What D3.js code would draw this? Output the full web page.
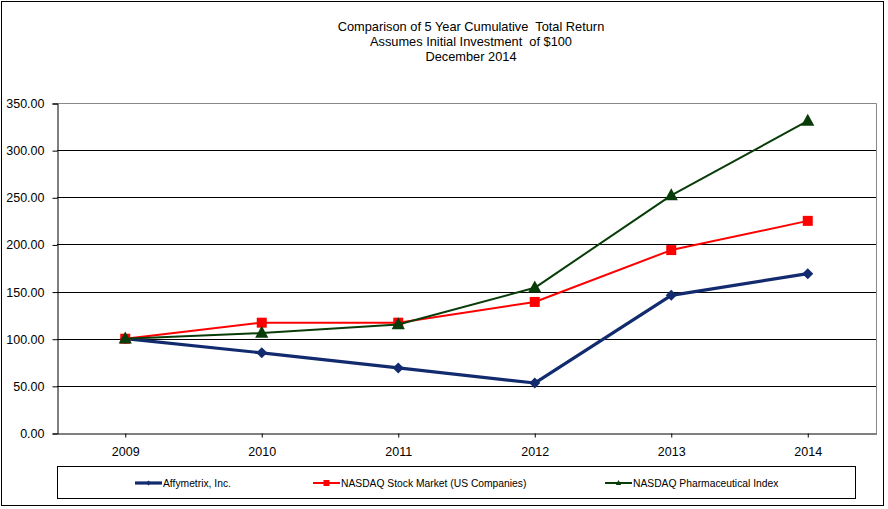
<!DOCTYPE html>
<html>
<head>
<meta charset="utf-8">
<script src="https://cdn.jsdelivr.net/npm/d3@7.9.0/dist/d3.min.js"></script>
<style>
  body { margin: 0; background: #fff; }
  svg { font-family: "Liberation Sans", Arial, sans-serif; }
  .title { white-space: pre; }
</style>
</head>
<body>
<svg width="888" height="509"></svg>
<script>
const years = ['2009', '2010', '2011', '2012', '2013', '2014'];
const affymetrix = [100, 85, 69, 53, 146, 169];
const nasdaqMarket = [100, 117, 117, 139, 194, 225];
const nasdaqPharma = [100, 106, 115, 154, 252, 331];
const yTicks = [0, 50, 100, 150, 200, 250, 300, 350];
const titleLines = [
  'Comparison of 5 Year Cumulative  Total Return',
  'Assumes Initial Investment  of $100',
  'December 2014'
];

const series = [
  { name: 'Affymetrix, Inc.', values: affymetrix, color: '#122a6e', width: 3.2, marker: 'diamond' },
  { name: 'NASDAQ Stock Market (US Companies)', values: nasdaqMarket, color: '#ff0000', width: 2, marker: 'square' },
  { name: 'NASDAQ Pharmaceutical Index', values: nasdaqPharma, color: '#083c08', width: 2, marker: 'triangle' }
];

const svg = d3.select('svg');
const plotLeft = 57, plotRight = 876, plotTop = 103, plotBottom = 433;

// outer frame
svg.append('rect').attr('x', 1.5).attr('y', 1.5).attr('width', 882).attr('height', 504)
  .attr('fill', 'none').attr('stroke', '#000').attr('stroke-width', 1);

svg.append('g').selectAll('text').data(titleLines).join('text')
  .attr('class', 'title')
  .attr('x', 471).attr('y', (d, i) => 31 + i * 15)
  .attr('text-anchor', 'middle').attr('font-size', 12.8).text(d => d);

let x = d3.scaleBand().domain(years).range([plotLeft, plotRight]);
let y = d3.scaleLinear().domain([0, 350]).range([plotBottom, plotTop]);

// plot area border (gray)
svg.append('path')
  .attr('d', `M${plotLeft},${plotTop + 0.5}H${plotRight + 0.5}V${plotBottom}`)
  .attr('fill', 'none').attr('stroke', '#888').attr('stroke-width', 1);

// gridlines
svg.append('g').selectAll('line').data(yTicks.filter(d => d > 0 && d < 350)).join('line')
  .attr('x1', plotLeft).attr('x2', plotRight)
  .attr('y1', d => Math.round(y(d)) + 0.5).attr('y2', d => Math.round(y(d)) + 0.5)
  .attr('stroke', '#000');

// y axis
let yAxis = d3.axisLeft(y).tickValues(yTicks).tickFormat(d3.format('.2f')).tickSize(5).tickPadding(8);
let gy = svg.append('g').attr('transform', `translate(${plotLeft + 0.5},0.5)`).call(yAxis);
gy.select('.domain').attr('stroke', '#000');
gy.selectAll('text').attr('font-size', 12.5).attr('font-family', 'Liberation Sans, Arial, sans-serif').attr('fill', '#000');

// x axis
let xAxis = d3.axisBottom(x).tickSize(4).tickPadding(10).tickSizeOuter(0);
let gx = svg.append('g').attr('transform', `translate(0.5,${plotBottom + 0.5})`).call(xAxis);
gx.selectAll('text').attr('font-size', 12.5).attr('font-family', 'Liberation Sans, Arial, sans-serif').attr('fill', '#000');

const cx = d => x(d) + x.bandwidth() / 2;

const markerPath = (type, s) => {
  if (type === 'diamond') return `M0,${-s}L${s},0L0,${s}L${-s},0Z`;
  if (type === 'square') return `M${-s},${-s}H${s}V${s}H${-s}Z`;
  return `M0,${-s * 1.2}L${s * 1.1},${s * 0.8}L${-s * 1.1},${s * 0.8}Z`;
};
const markerSize = { diamond: 5.5, square: 5, triangle: 6 };

series.forEach(s => {
  let line = d3.line().x((d, i) => cx(years[i])).y(d => y(d));
  svg.append('path').datum(s.values).attr('d', line)
    .attr('fill', 'none').attr('stroke', s.color).attr('stroke-width', s.width)
    .attr('stroke-linejoin', 'round');
  svg.append('g').selectAll('path').data(s.values).join('path')
    .attr('transform', (d, i) => `translate(${cx(years[i])},${y(d)})`)
    .attr('d', markerPath(s.marker, markerSize[s.marker]))
    .attr('fill', s.color);
});

// legend
svg.append('rect').attr('x', 57.5).attr('y', 466.5).attr('width', 798).attr('height', 32)
  .attr('fill', '#fff').attr('stroke', '#000');
const legendX = [135, 313, 605];
series.forEach((s, i) => {
  let g = svg.append('g').attr('transform', `translate(${legendX[i]},483)`);
  g.append('line').attr('x1', 0).attr('x2', 27).attr('stroke', s.color).attr('stroke-width', s.width);
  g.append('path').attr('transform', 'translate(13.5,0)')
    .attr('d', markerPath(s.marker, s.marker === 'square' ? 3 : 2.5)).attr('fill', s.color);
  g.append('text').attr('x', 28).attr('y', 3.5).attr('font-size', 10.3).text(s.name);
});
</script>
</body>
</html>
